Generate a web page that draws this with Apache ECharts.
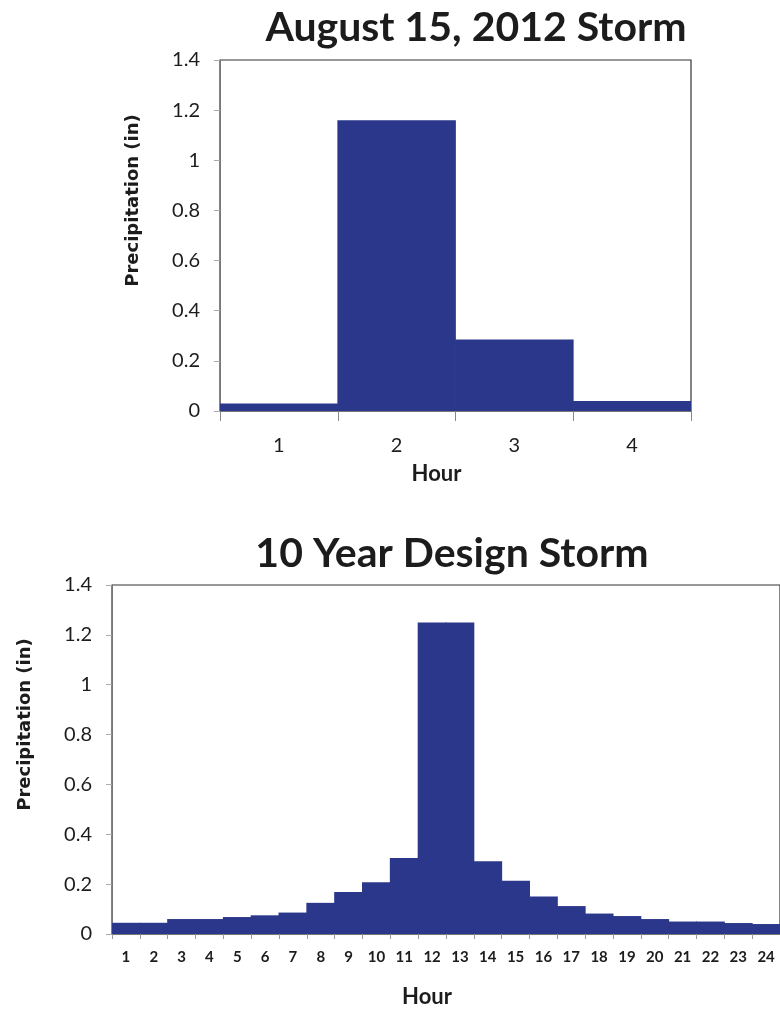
<!DOCTYPE html>
<html>
<head>
<meta charset="utf-8">
<title>Storm Hyetographs</title>
<script src="https://cdn.jsdelivr.net/npm/echarts@6/dist/echarts.min.js"></script>
<style>
  html, body { margin: 0; padding: 0; background: #ffffff; }
  #chart { width: 780px; height: 1010px; }
</style>
</head>
<body>
<div id="chart"></div>
<script>
// Hourly rainfall, August 15, 2012 storm (inches)
const augHours = ['1', '2', '3', '4'];
const augPrecip = [0.03, 1.16, 0.285, 0.04];

// Hourly rainfall, 10-year 24-hour design storm (inches)
const designHours = ['1', '2', '3', '4', '5', '6', '7', '8', '9', '10', '11', '12',
                     '13', '14', '15', '16', '17', '18', '19', '20', '21', '22', '23', '24'];
const designPrecip = [0.045, 0.045, 0.06, 0.06, 0.068, 0.075, 0.086, 0.125, 0.168, 0.208, 0.305, 1.25,
                      1.25, 0.292, 0.214, 0.15, 0.112, 0.082, 0.072, 0.06, 0.05, 0.05, 0.044, 0.04];

// Precipitation axis ticks
const yMin = 0, yMax = 1.4, yStep = 0.2;

const BAR = '#2b378a';
const INK = '#1c1c1c';

function valueAxis(gridIndex, labelMargin) {
  return {
    type: 'value', gridIndex,
    min: yMin, max: yMax, interval: yStep,
    name: 'Precipitation (in)',
    nameLocation: 'middle', nameRotate: 90, nameGap: 78,
    nameTextStyle: { fontFamily: 'DejaVu Sans', fontWeight: 'bold', fontSize: 18, color: INK, padding: [0, 0, 0, 70] },
    axisLine: { show: true, lineStyle: { color: '#777', width: 1 } },
    axisTick: { show: true, inside: false, length: 6, lineStyle: { color: '#aaa' } },
    splitLine: { show: false },
    axisLabel: { fontFamily: 'Lato', fontSize: 20, color: INK, margin: labelMargin,
                 formatter: v => String(+v.toFixed(1)) }
  };
}

const option = {
  backgroundColor: '#ffffff',
  animation: false,
  title: [
    { text: 'August 15, 2012 Storm', left: 471, top: 2, textAlign: 'center',
      textStyle: { fontFamily: 'Lato', fontWeight: 'bold', fontSize: 41, color: INK } },
    { text: '10 Year Design Storm', left: 447, top: 528, textAlign: 'center',
      textStyle: { fontFamily: 'Lato', fontWeight: 'bold', fontSize: 41, color: INK } }
  ],
  grid: [
    { left: 220, top: 60, width: 471, height: 351, show: true, borderColor: '#333', borderWidth: 1.2, backgroundColor: 'transparent' },
    { left: 112, top: 585, width: 676, height: 349, show: true, borderColor: '#333', borderWidth: 1.2, backgroundColor: 'transparent' }
  ],
  xAxis: [
    { type: 'category', gridIndex: 0, data: augHours,
      name: 'Hour', nameLocation: 'middle', nameGap: 52,
      nameTextStyle: { fontFamily: 'Lato', fontWeight: 'bold', fontSize: 22, color: INK, padding: [0, 38, 0, 0] },
      axisLine: { lineStyle: { color: '#777' } },
      axisTick: { show: true, length: 10, lineStyle: { color: '#888' } },
      axisLabel: { fontFamily: 'Lato', fontSize: 20, color: INK, margin: 25 } },
    { type: 'category', gridIndex: 1, data: designHours,
      name: 'Hour', nameLocation: 'middle', nameGap: 52,
      nameTextStyle: { fontFamily: 'Lato', fontWeight: 'bold', fontSize: 22, color: INK, padding: [0, 38, 0, 0] },
      axisLine: { lineStyle: { color: '#777' } },
      axisTick: { show: true, length: 5, lineStyle: { color: '#999' } },
      axisLabel: { fontFamily: 'Lato', fontWeight: 'bold', fontSize: 15, color: INK, margin: 16, interval: 0 } }
  ],
  yAxis: [ valueAxis(0, 20), valueAxis(1, 20) ],
  series: [
    // bars slightly wider than a category so neighbouring hours join without seams
    { type: 'bar', xAxisIndex: 0, yAxisIndex: 0, data: augPrecip,
      barWidth: 118.5, itemStyle: { color: BAR } },
    { type: 'bar', xAxisIndex: 1, yAxisIndex: 1, data: designPrecip,
      barWidth: 28.8, itemStyle: { color: BAR } }
  ]
};

const chart = echarts.init(document.getElementById('chart'), null, { renderer: 'canvas' });
chart.setOption(option);
</script>
</body>
</html>
